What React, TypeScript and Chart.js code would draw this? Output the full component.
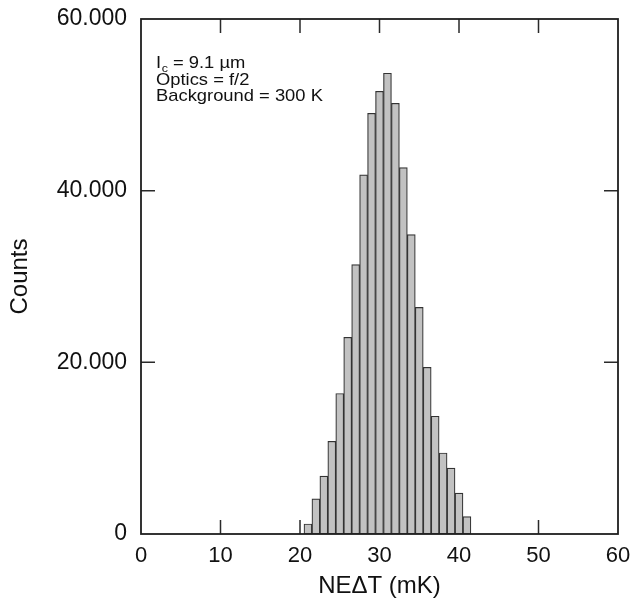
import { useEffect, useRef } from 'react';
import { Chart, registerables } from 'chart.js';

Chart.register(...registerables);

// Histogram bin centres (NEΔT, mK) and counts per bin
const nedtBinCenters = [21, 22, 23, 24, 25, 26, 27, 28, 29, 30, 31, 32, 33, 34, 35, 36, 37, 38, 39, 40, 41];
const counts = [1170, 4090, 6750, 10800, 16370, 22920, 31380, 41840, 49010, 51580, 53680, 50180, 42690, 34890, 26400, 19420, 13720, 9440, 7680, 4760, 2020];

// Axis ticks
const xTickValues = [0, 10, 20, 30, 40, 50, 60];
const yTickValues = [0, 20000, 40000, 60000];
const yTickLabels = ['0', '20.000', '40.000', '60.000'];
const xInnerTicks = [10, 20, 30, 40, 50];
const yInnerTicks = [20000, 40000];

const xTitle = 'NEΔT (mK)';
const yTitle = 'Counts';
const noteLines = ['= 9.1 µm', 'Optics = f/2', 'Background = 300 K'];

const FONT = '"Liberation Sans", Arial, Helvetica, sans-serif';
const INK = '#111111';

const framePlugin = {
  id: 'frameAndTicks',
  beforeDatasetsDraw(chart: any) {
    const { ctx, chartArea: a, scales } = chart;
    const L = 14;
    ctx.save();
    ctx.strokeStyle = '#2a2a2a';
    ctx.lineWidth = 1.5;
    ctx.beginPath();
    xInnerTicks.forEach((v) => {
      const px = scales.x.getPixelForValue(v);
      ctx.moveTo(px, a.bottom);
      ctx.lineTo(px, a.bottom - L);
      ctx.moveTo(px, a.top);
      ctx.lineTo(px, a.top + L);
    });
    yInnerTicks.forEach((v) => {
      const py = scales.y.getPixelForValue(v);
      ctx.moveTo(a.left, py);
      ctx.lineTo(a.left + L, py);
      ctx.moveTo(a.right, py);
      ctx.lineTo(a.right - L, py);
    });
    ctx.stroke();
    ctx.restore();
  },
  afterDatasetsDraw(chart: any) {
    const { ctx, chartArea: a } = chart;
    ctx.save();
    ctx.strokeStyle = '#1e1e1e';
    ctx.lineWidth = 1.8;
    ctx.strokeRect(a.left, a.top, a.right - a.left, a.bottom - a.top);

    // annotation (slightly wide lettering, as in the scanned figure)
    ctx.fillStyle = INK;
    ctx.textBaseline = 'alphabetic';
    ctx.textAlign = 'left';
    const x0 = a.left + 15;
    const b1 = a.top + 49;
    ctx.translate(x0, 0);
    ctx.scale(1.08, 1);
    ctx.font = `17px ${FONT}`;
    ctx.fillText('I', 0, b1);
    const iw = ctx.measureText('I').width;
    ctx.font = `11.5px ${FONT}`;
    ctx.fillText('c', iw + 0.5, b1 + 4);
    const cw = ctx.measureText('c').width;
    ctx.font = `17px ${FONT}`;
    ctx.fillText(' ' + noteLines[0], iw + 0.5 + cw, b1);
    ctx.fillText(noteLines[1], 0, b1 + 16.5);
    ctx.fillText(noteLines[2], 0, b1 + 33);
    ctx.restore();
  },
};

export default function App() {
  const ref = useRef<HTMLCanvasElement | null>(null);

  useEffect(() => {
    if (!ref.current) return;
    const chart = new Chart(ref.current, {
      type: 'bar',
      data: {
        datasets: [
          {
            data: nedtBinCenters.map((x, i) => ({ x, y: counts[i] })),
            backgroundColor: '#c2c2c2',
            borderColor: '#333333',
            borderWidth: 1.2,
            borderSkipped: false,
            barPercentage: 1,
            categoryPercentage: 1,
          },
        ],
      },
      plugins: [framePlugin],
      options: {
        animation: false,
        responsive: true,
        maintainAspectRatio: false,
        devicePixelRatio: 1,
        layout: { padding: { left: 0, top: 19, right: 21, bottom: 0 } },
        plugins: {
          legend: { display: false },
          tooltip: { enabled: false },
        },
        scales: {
          x: {
            type: 'linear',
            min: 0,
            max: 60,
            offset: false,
            afterFit: (s: any) => {
              s.height = 65;
              s.paddingLeft = 0;
              s.paddingRight = 0;
            },
            afterBuildTicks: (s: any) => {
              s.ticks = xTickValues.map((v) => ({ value: v }));
            },
            grid: { display: false, drawTicks: false },
            border: { display: false },
            ticks: {
              padding: 9,
              color: INK,
              font: { family: FONT, size: 22 },
              maxRotation: 0,
              autoSkip: false,
              callback: (v: any) => String(v),
            },
            title: {
              display: true,
              text: xTitle,
              color: INK,
              font: { family: FONT, size: 24, lineHeight: 1.0 },
              padding: { top: 0, bottom: 1 },
            },
          },
          y: {
            type: 'linear',
            min: 0,
            max: 60000,
            afterFit: (s: any) => {
              s.width = 141;
              s.paddingTop = 0;
              s.paddingBottom = 0;
            },
            afterBuildTicks: (s: any) => {
              s.ticks = yTickValues.map((v) => ({ value: v }));
            },
            grid: { display: false, drawTicks: false },
            border: { display: false },
            ticks: {
              padding: 14,
              color: INK,
              font: { family: FONT, size: 23 },
              autoSkip: false,
              callback: (v: any) => {
                const i = yTickValues.indexOf(Number(v));
                return i >= 0 ? yTickLabels[i] : '';
              },
            },
            title: {
              display: true,
              text: yTitle,
              color: INK,
              font: { family: FONT, size: 24, lineHeight: 1.2 },
              padding: { top: 6, bottom: 0 },
            },
          },
        },
      },
    });
    return () => chart.destroy();
  }, []);

  return (
    <div style={{ position: 'fixed', left: 0, top: 0, width: 639, height: 599, background: '#fff' }}>
      <canvas ref={ref} />
    </div>
  );
}
